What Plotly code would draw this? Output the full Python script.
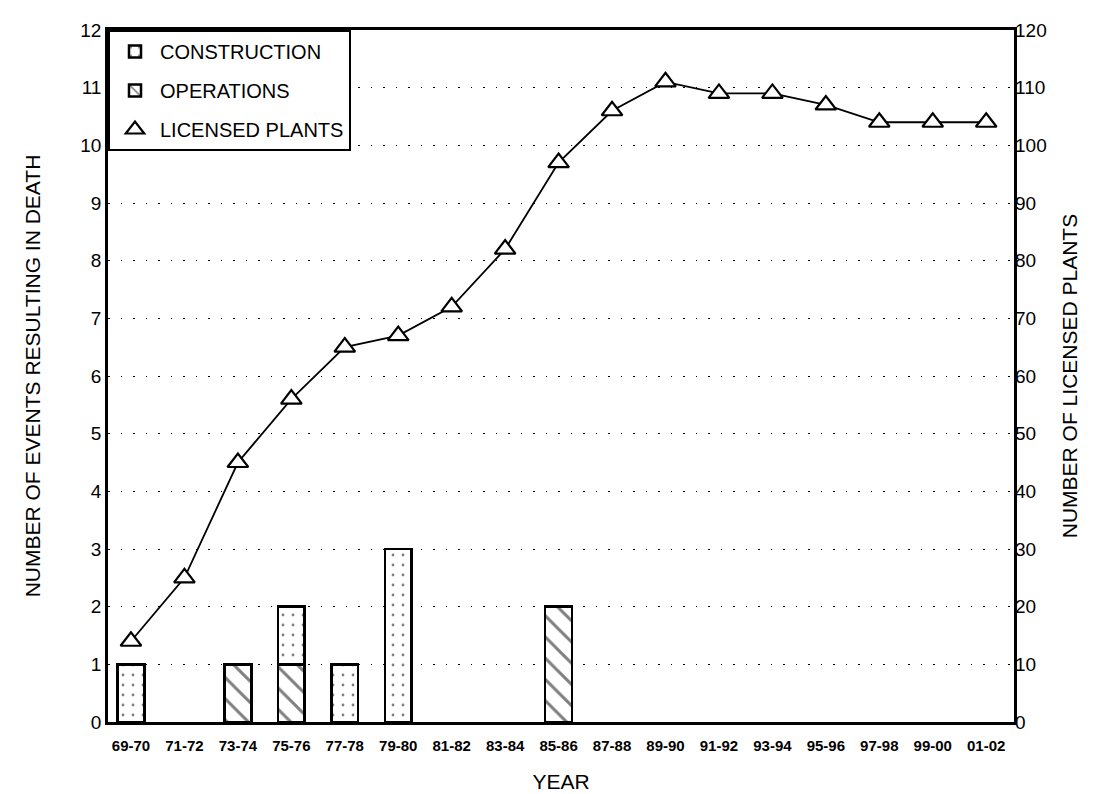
import plotly.graph_objects as go

years = ["69-70", "71-72", "73-74", "75-76", "77-78", "79-80", "81-82", "83-84",
         "85-86", "87-88", "89-90", "91-92", "93-94", "95-96", "97-98", "99-00", "01-02"]
construction = [1, None, None, 1, 1, 3, None, None, None, None, None, None, None, None, None, None, None]
operations = [None, None, 1, 1, None, None, None, None, 2, None, None, None, None, None, None, None, None]
licensed_plants = [14, 25, 45, 56, 65, 67, 72, 82, 97, 106, 111, 109, 109, 107, 104, 104, 104]

FONT = "Liberation Sans, Arial, sans-serif"

fig = go.Figure()

fig.add_trace(go.Bar(
    x=years, y=operations, name="OPERATIONS", width=0.5,
    marker=dict(color="white", line=dict(color="black", width=2.5),
                pattern=dict(shape="\\", size=15, solidity=0.2, fgcolor="black", bgcolor="white")),
    legendrank=2, legendgroup="b",
))
fig.add_trace(go.Bar(
    x=years, y=construction, name="CONSTRUCTION", width=0.5,
    marker=dict(color="white", line=dict(color="black", width=2.5),
                pattern=dict(shape=".", size=10, solidity=0.06, fgcolor="black", bgcolor="white")),
    legendrank=1, legendgroup="a",
))
fig.add_trace(go.Scatter(
    x=years, y=licensed_plants, yaxis="y2", mode="lines+markers", showlegend=False,
    line=dict(color="black", width=1.8),
    marker=dict(symbol="triangle-up", size=18, color="white", line=dict(color="black", width=2.2)),
))
fig.add_trace(go.Scatter(
    x=[None], y=[None], yaxis="y2", mode="markers", name="LICENSED PLANTS",
    marker=dict(symbol="triangle-up", size=16, color="white", line=dict(color="black", width=2.2)),
    legendrank=3, legendgroup="c",
))

fig.update_layout(
    width=1093, height=794, autosize=False,
    margin=dict(l=100, r=87, t=18, b=74),
    paper_bgcolor="white", plot_bgcolor="white",
    barmode="stack",
    font=dict(family=FONT, color="black", size=16),
    showlegend=True,
    legend=dict(x=0, y=1, xanchor="left", yanchor="top",
                bgcolor="white", bordercolor="black", borderwidth=2,
                font=dict(size=20, family=FONT), traceorder="grouped",
                tracegroupgap=10, itemwidth=40),
    xaxis=dict(type="category", range=[-0.43, 16.52], showgrid=False,
               showline=True, linecolor="black", linewidth=2.5, mirror=True,
               ticks="", ticklabelstandoff=8,
               tickfont=dict(size=15, family=FONT, weight="bold"),
               title=dict(text="YEAR", font=dict(size=21), standoff=22)),
    yaxis=dict(range=[0, 12], dtick=1, showgrid=True, gridcolor="black", gridwidth=1,
               griddash="1.5px,11px", zeroline=False,
               showline=True, linecolor="black", linewidth=2.5, mirror=True,
               ticks="", tickfont=dict(size=19),
               title=dict(text="NUMBER OF EVENTS RESULTING IN DEATH", font=dict(size=21), standoff=34)),
    yaxis2=dict(range=[0, 120], dtick=10, overlaying="y", side="right", showgrid=False,
                zeroline=False, showline=False, ticks="", tickfont=dict(size=19),
                title=dict(text="NUMBER OF LICENSED PLANTS", font=dict(size=21), standoff=16)),
)

fig.write_html("out.html")
